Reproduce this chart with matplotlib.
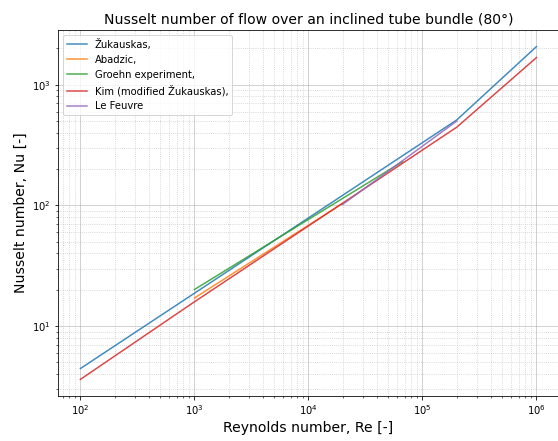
import matplotlib
matplotlib.use('Agg')
import matplotlib.pyplot as plt
import numpy as np

# Nusselt number correlations, breakpoints of each curve (Re, Nu)
re_zuk = [1e2, 2e5, 1e6]
nu_zuk = [4.45, 511, 2070]

re_abadzic = [1e3, 2e4]
nu_abadzic = [17.1, 104]

re_groehn = [1e3, 6.7e4]
nu_groehn = [20.1, 231]

re_kim = [1e2, 1e3, 2e5, 1e6]
nu_kim = [3.62, 15.9, 445, 1680]

re_lefeuvre = [2e4, 2e5]
nu_lefeuvre = [102, 500]

fig = plt.figure(figsize=(558/72., 441/72.), dpi=72)
ax = fig.add_axes([0.1032, 0.102, 0.8990, 0.830])

ax.plot(re_zuk, nu_zuk, label='Žukauskas,', alpha=0.85)
ax.plot(re_abadzic, nu_abadzic, label='Abadzic,', alpha=0.85)
ax.plot(re_groehn, nu_groehn, label='Groehn experiment,', alpha=0.85)
ax.plot(re_kim, nu_kim, label='Kim (modified Žukauskas),', alpha=0.85)
ax.plot(re_lefeuvre, nu_lefeuvre, label='Le Feuvre', alpha=0.85)

ax.set_xscale('log')
ax.set_yscale('log')
ax.grid(which='major', ls='-', alpha=0.7)
ax.grid(which='minor', ls=':', alpha=0.7)

ax.set_title('Nusselt number of flow over an inclined tube bundle (80°)', fontsize=14)
ax.set_xlabel('Reynolds number, Re [-]', fontsize=14)
ax.set_ylabel('Nusselt number, Nu [-]', fontsize=14)
ax.legend(loc='upper left')

plt.savefig('out.png', dpi=72)
